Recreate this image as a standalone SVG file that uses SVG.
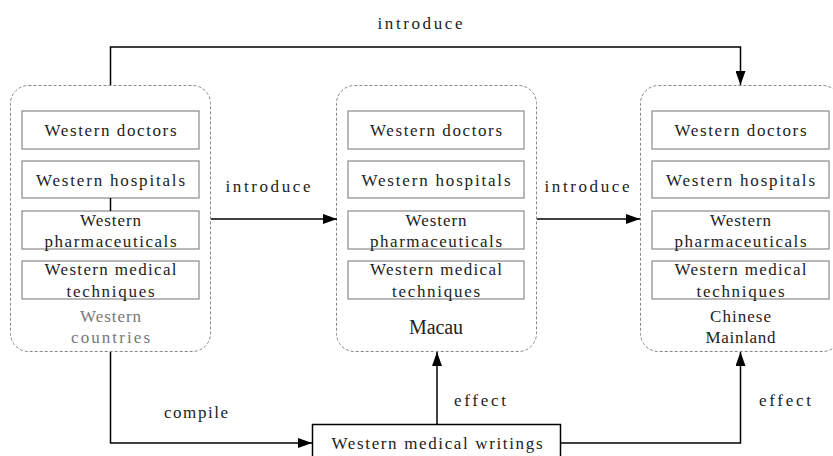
<svg xmlns="http://www.w3.org/2000/svg" width="833" height="456" viewBox="0 0 833 456">
<defs>
<marker id="arr" markerWidth="14" markerHeight="10" refX="14" refY="5" orient="auto" markerUnits="userSpaceOnUse">
<path d="M0,0 L14,5 L0,10 Z" fill="#000"/>
</marker>
<style>
.cont{fill:#fff;stroke:#888;stroke-width:1;stroke-dasharray:3,2}
.box{fill:#fff;stroke:#8a8a8a;stroke-width:1.2}
.t{font-family:"Liberation Serif","DejaVu Serif",serif;font-size:17px;fill:#222;text-anchor:middle;dominant-baseline:central}
.lbl{font-family:"Liberation Serif","DejaVu Serif",serif;font-size:17px;fill:#222;text-anchor:middle;dominant-baseline:central}
.gray{fill:#777}
.big{font-size:20px}
.ln{fill:none;stroke:#000;stroke-width:1.5}
</style>
</defs>
<rect width="833" height="456" fill="#fff"/>

<g id="western-countries">
<rect class="cont" x="10.5" y="85.5" width="200" height="266" rx="18"/>
<rect class="box" x="22" y="111" width="177" height="38"/>
<text class="t" x="110.5" y="130" textLength="132" lengthAdjust="spacing">Western doctors</text>
<rect class="box" x="22" y="161" width="177" height="37"/>
<text class="t" x="110.5" y="180" textLength="149" lengthAdjust="spacing">Western hospitals</text>
<rect class="box" x="22" y="211" width="177" height="38"/>
<text class="t" x="110.5" y="220" textLength="61" lengthAdjust="spacing">Western</text>
<text class="t" x="110.5" y="241" textLength="132" lengthAdjust="spacing">pharmaceuticals</text>
<rect class="box" x="22" y="261" width="177" height="38"/>
<text class="t" x="110.5" y="269" textLength="132" lengthAdjust="spacing">Western medical</text>
<text class="t" x="110.5" y="291" textLength="88" lengthAdjust="spacing">techniques</text>
<text class="t gray" x="110.5" y="316" textLength="61" lengthAdjust="spacing">Western</text>
<text class="t gray" x="110.5" y="337" textLength="79" lengthAdjust="spacing">countries</text>
</g>

<g id="macau">
<rect class="cont" x="336.5" y="85.5" width="200" height="266" rx="18"/>
<rect class="box" x="348" y="111" width="176" height="38"/>
<text class="t" x="436" y="130" textLength="132" lengthAdjust="spacing">Western doctors</text>
<rect class="box" x="348" y="161" width="176" height="37"/>
<text class="t" x="436" y="180" textLength="149" lengthAdjust="spacing">Western hospitals</text>
<rect class="box" x="348" y="211" width="176" height="38"/>
<text class="t" x="436" y="220" textLength="61" lengthAdjust="spacing">Western</text>
<text class="t" x="436" y="241" textLength="132" lengthAdjust="spacing">pharmaceuticals</text>
<rect class="box" x="348" y="261" width="176" height="38"/>
<text class="t" x="436" y="269" textLength="132" lengthAdjust="spacing">Western medical</text>
<text class="t" x="436" y="291" textLength="88" lengthAdjust="spacing">techniques</text>
<text class="t big" x="436" y="327" textLength="54" lengthAdjust="spacing">Macau</text>
</g>

<g id="chinese-mainland">
<rect class="cont" x="640.5" y="85.5" width="200" height="266" rx="18"/>
<rect class="box" x="652" y="111" width="177" height="38"/>
<text class="t" x="740.5" y="130" textLength="132" lengthAdjust="spacing">Western doctors</text>
<rect class="box" x="652" y="161" width="177" height="37"/>
<text class="t" x="740.5" y="180" textLength="149" lengthAdjust="spacing">Western hospitals</text>
<rect class="box" x="652" y="211" width="177" height="38"/>
<text class="t" x="740.5" y="220" textLength="61" lengthAdjust="spacing">Western</text>
<text class="t" x="740.5" y="241" textLength="132" lengthAdjust="spacing">pharmaceuticals</text>
<rect class="box" x="652" y="261" width="177" height="38"/>
<text class="t" x="740.5" y="269" textLength="132" lengthAdjust="spacing">Western medical</text>
<text class="t" x="740.5" y="291" textLength="88" lengthAdjust="spacing">techniques</text>
<text class="t" x="740.5" y="316" textLength="61" lengthAdjust="spacing">Chinese</text>
<text class="t" x="740.5" y="337" textLength="70" lengthAdjust="spacing">Mainland</text>
</g>

<g id="writings">
<rect x="312.5" y="424.5" width="248" height="40" fill="#fff" stroke="#000" stroke-width="1.5"/>
<text class="t" x="437" y="443" textLength="211" lengthAdjust="spacing">Western medical writings</text>
</g>

<g id="connectors">
<path class="ln" d="M110.5,85 V47 H740.5 V85" marker-end="url(#arr)"/>
<line class="ln" x1="110.5" y1="198" x2="110.5" y2="211"/>
<path class="ln" d="M211,219 H337" marker-end="url(#arr)"/>
<path class="ln" d="M537,219 H640" marker-end="url(#arr)"/>
<path class="ln" d="M110.5,352 V443 H312" marker-end="url(#arr)"/>
<path class="ln" d="M437,424 V352" marker-end="url(#arr)"/>
<path class="ln" d="M561,443 H740.5 V352" marker-end="url(#arr)"/>
<text class="lbl" x="420" y="23" textLength="85" lengthAdjust="spacing">introduce</text>
<text class="lbl" x="268" y="186" textLength="85" lengthAdjust="spacing">introduce</text>
<text class="lbl" x="587" y="186" textLength="85" lengthAdjust="spacing">introduce</text>
<text class="lbl" x="196" y="412" textLength="64" lengthAdjust="spacing">compile</text>
<text class="lbl" x="480" y="400" textLength="52" lengthAdjust="spacing">effect</text>
<text class="lbl" x="785" y="400" textLength="52" lengthAdjust="spacing">effect</text>
</g>
</svg>
